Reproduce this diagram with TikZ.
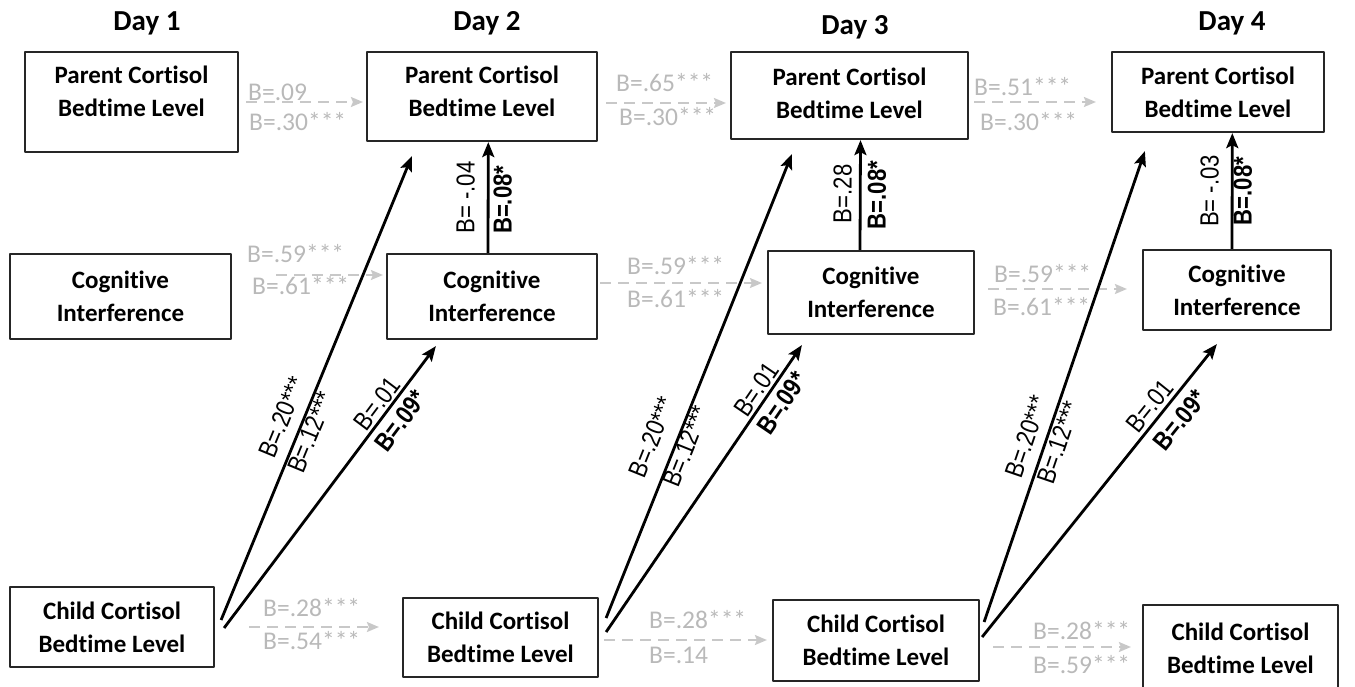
\documentclass[tikz,border=0pt]{standalone}
\usepackage{fontspec}
\setmainfont{Carlito}[Ligatures=NoCommon]
\newfontfamily\narrowfont[FakeStretch=0.85]{Liberation Sans}
\usetikzlibrary{arrows.meta,calc}
\definecolor{lagline}{RGB}{200,200,200}
\definecolor{lagtext}{RGB}{185,185,185}

\begin{document}
\begin{tikzpicture}[x=1pt,y=-1pt,line join=round]
	\tikzset{box/.style={draw=black!85,line width=2.2pt,align=center,inner sep=0pt,font=\fontsize{25}{33}\selectfont\bfseries},
		daytitle/.style={font=\fontsize{29}{34}\selectfont\bfseries},
		blk/.style={-{Stealth[length=15pt,width=12pt,inset=3pt]},line width=2.8pt},
		gry/.style={-{Stealth[length=12pt,width=10pt,inset=2pt]},draw=lagline,line width=2pt,dash pattern=on 11pt off 7pt},
		glab/.style={anchor=west,inner sep=0pt,text=lagtext,font=\fontsize{25.5}{30}\selectfont},
		blab/.style={sloped,inner sep=0pt,font=\narrowfont\fontsize{26}{30}\selectfont}}
	\useasboundingbox (0,0) rectangle (1355,687);
	% day headings
	\node[daytitle] (d1) at (147,23) {Day 1};
	\node[daytitle] (d2) at (487,23) {Day 2};
	\node[daytitle] (d3) at (855,27) {Day 3};
	\node[daytitle] (d4) at (1232,23) {Day 4};
	% parent cortisol
	\node[box,minimum width=213pt,minimum height=100pt,text depth=22pt] (p1) at (131.5,102) {Parent Cortisol\\Bedtime Level};
	\node[box,minimum width=230pt,minimum height=89pt,text depth=10pt] (p2) at (482,96.5) {Parent Cortisol\\Bedtime Level};
	\node[box,minimum width=237pt,minimum height=87pt,text depth=5pt] (p3) at (849.5,95.5) {Parent Cortisol\\Bedtime Level};
	\node[box,minimum width=212pt,minimum height=80pt] (p4) at (1218,92) {Parent Cortisol\\Bedtime Level};
	% cognitive interference
	\node[box,minimum width=221pt,minimum height=85pt] (c1) at (120.5,296.5) {Cognitive\\Interference};
	\node[box,minimum width=210pt,minimum height=85pt] (c2) at (492,296.5) {Cognitive\\Interference};
	\node[box,minimum width=206pt,minimum height=83pt] (c3) at (871,292.5) {Cognitive\\Interference};
	\node[box,minimum width=188pt,minimum height=80pt] (c4) at (1237,290) {Cognitive\\Interference};
	% child cortisol
	\node[box,minimum width=204pt,minimum height=80pt] (ch1) at (112,627) {Child Cortisol\\Bedtime Level};
	\node[box,minimum width=195pt,minimum height=79pt] (ch2) at (500.5,637.5) {Child Cortisol\\Bedtime Level};
	\node[box,minimum width=206pt,minimum height=81pt] (ch3) at (876,640.5) {Child Cortisol\\Bedtime Level};
	\node[box,minimum width=195pt,minimum height=87pt] (ch4) at (1240.5,648.5) {Child Cortisol\\Bedtime Level};
	% stability paths
	\draw[gry,shorten <=7pt,shorten >=3pt] (p1.east |- 0,102) -- (p2.west |- 0,102);
	\draw[gry,shorten <=8pt,shorten >=4pt] (p2.east |- 0,103) -- (p3.west |- 0,103);
	\draw[gry,shorten <=5pt,shorten >=15pt] (p3.east |- 0,102) -- (p4.west |- 0,102);
	\draw[gry,shorten <=44pt,shorten >=3pt] (c1.east |- 0,275) -- (c2.west |- 0,275);
	\draw[gry,shorten <=2pt,shorten >=5pt] (c2.east |- 0,283) -- (c3.west |- 0,283);
	\draw[gry,shorten <=13pt,shorten >=15pt] (c3.east |- 0,289) -- (c4.west |- 0,289);
	\draw[gry,shorten <=34pt,shorten >=23pt] (ch1.east |- 0,627) -- (ch2.west |- 0,627);
	\draw[gry,shorten <=5pt,shorten >=5pt] (ch2.east |- 0,640) -- (ch3.west |- 0,640);
	\draw[gry,shorten <=13pt,shorten >=11pt] (ch3.east |- 0,647) -- (ch4.west |- 0,647);
	\node[glab] (g1a) at (248,92) {B=.09};
	\node[glab] (g1b) at (249,122) {B=.30***};
	\node[glab] (g2a) at (616,83) {B=.65***};
	\node[glab] (g2b) at (619,117) {B=.30***};
	\node[glab] (g3a) at (974,87) {B=.51***};
	\node[glab] (g3b) at (980,122) {B=.30***};
	\node[glab] (g4a) at (247,254) {B=.59***};
	\node[glab] (g4b) at (252,286) {B=.61***};
	\node[glab] (g5a) at (627,266) {B=.59***};
	\node[glab] (g5b) at (627,299) {B=.61***};
	\node[glab] (g6a) at (994,274) {B=.59***};
	\node[glab] (g6b) at (993,307) {B=.61***};
	\node[glab] (g7a) at (263,608) {B=.28***};
	\node[glab] (g7b) at (263,641) {B=.54***};
	\node[glab] (g8a) at (649,620) {B=.28***};
	\node[glab] (g8b) at (649,655) {B=.14};
	\node[glab] (g9a) at (1033,631) {B=.28***};
	\node[glab] (g9b) at (1033,665) {B=.59***};
	% cross-lagged paths
	\draw[blk] ($(ch1.east)+(6,-7)$) -- node[blab,pos=0.42,above=10pt] (x1a) {B=.20***} node[blab,pos=0.414,below=1pt] (x1b) {B=.12***} ($(p2.south west)+(46,14)$);
	\draw[blk] ($(ch1.east)+(9,1)$) -- node[blab,pos=0.77,above=2pt] (y1a) {B=.01} node[blab,pos=0.77,below=6pt] (y1b) {\bfseries B=.09*} ($(c2.south west)+(50,6)$);
	\draw[blk] ($(ch2.east)+(7,-19.5)$) -- node[blab,pos=0.37,above=14pt] (x2a) {B=.20***} node[blab,pos=0.378,below=0pt] (x2b) {B=.12***} ($(p3.south west)+(62,14)$);
	\draw[blk] ($(ch2.east)+(7,-5.5)$) -- node[blab,pos=0.82,above=2pt] (y2a) {B=.01} node[blab,pos=0.83,below=5.5pt] (y2b) {\bfseries B=.09*} ($(c3.south west)+(35,10)$);
	\draw[blk] ($(ch3.east)+(4,-18.5)$) -- node[blab,pos=0.38,above=9pt] (x3a) {B=.20***} node[blab,pos=0.39,below=2pt] (x3b) {B=.12***} ($(p4.south west)+(34,18)$);
	\draw[blk] ($(ch3.east)+(2,-3.5)$) -- node[blab,pos=0.76,above=3pt] (y3a) {B=.01} node[blab,pos=0.78,below=8pt] (y3b) {\bfseries B=.09*} ($(c4.south west)+(75,13)$);
	% cognitive interference to parent cortisol
	\draw[blk] ($(c2.north)+(-4,0)$) -- node[blab,pos=0.5,above=12pt] (v1a) {B= -.04} node[blab,pos=0.48,below=4pt] (v1b) {\bfseries B=.08*} ($(p2.south)+(6.3,0)$);
	\draw[blk] ($(c3.north)+(-11,0)$) -- node[blab,pos=0.51,above=7pt] (v2a) {B=.28} node[blab,pos=0.5,below=6pt] (v2b) {\bfseries B=.08*} ($(p3.south)+(11,0)$);
	\draw[blk] ($(c4.north)+(-5,0)$) -- node[blab,pos=0.5,above=12pt] (v3a) {B= -.03} node[blab,pos=0.5,below=0pt] (v3b) {\bfseries B=.08*} ($(p4.south)+(14.3,0)$);
\end{tikzpicture}
\end{document}
